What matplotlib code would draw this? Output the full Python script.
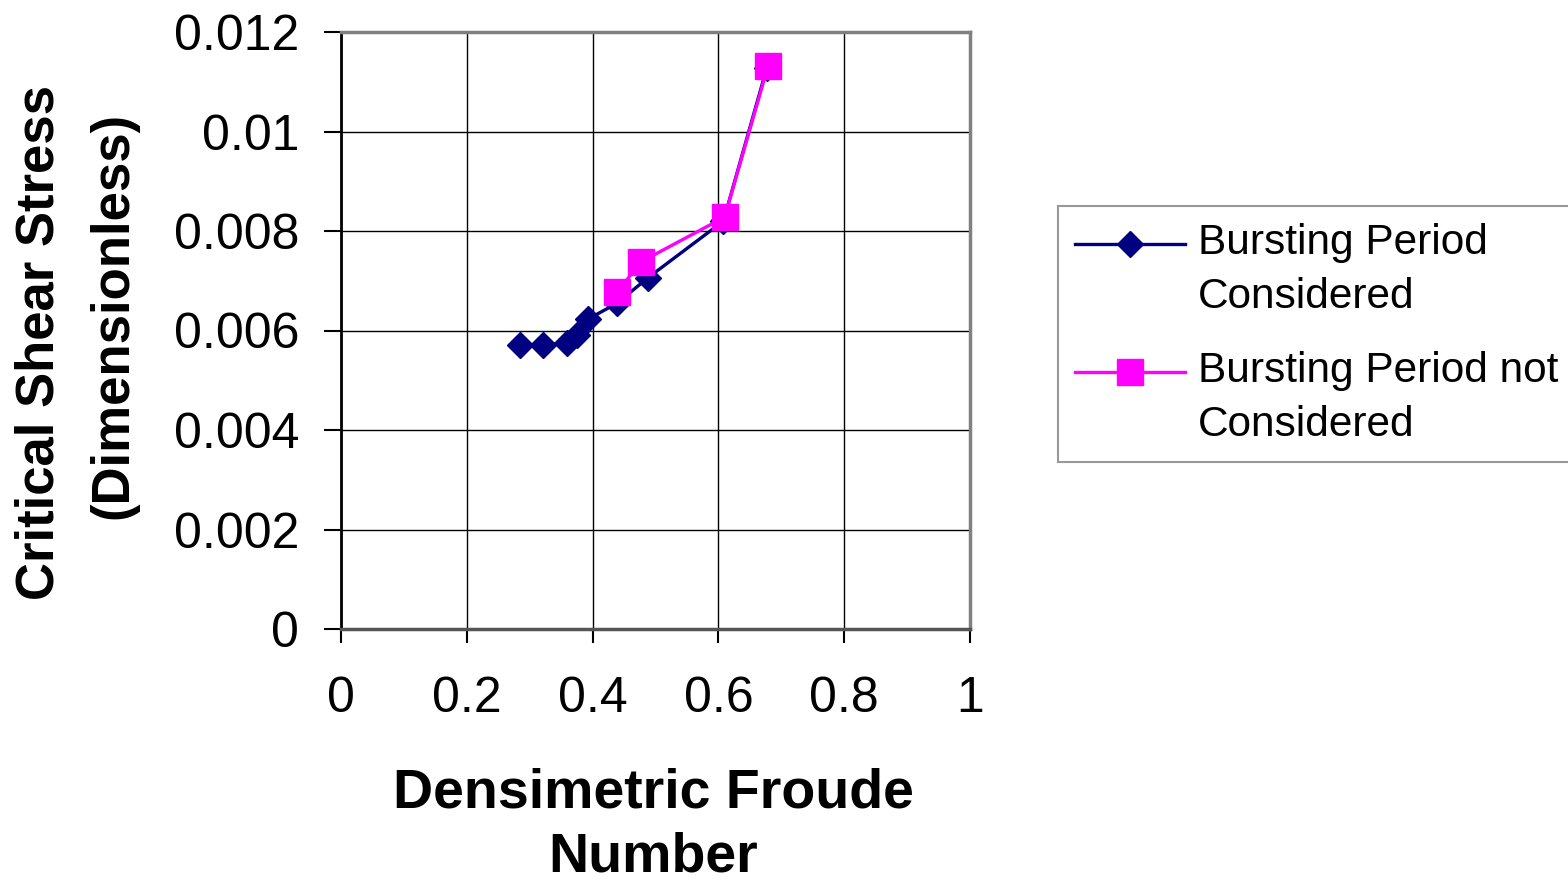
import matplotlib.pyplot as plt
from matplotlib.legend_handler import HandlerLine2D

plt.rcParams['font.family'] = ['Liberation Sans', 'DejaVu Sans']

# Bursting period considered
froude_burst = [0.285, 0.321, 0.359, 0.375, 0.393, 0.439, 0.488, 0.608, 0.677]
shear_burst = [0.00571, 0.00571, 0.00574, 0.00590, 0.00623, 0.00655, 0.00706, 0.00820, 0.01128]

# Bursting period not considered
froude_noburst = [0.439, 0.477, 0.610, 0.679]
shear_noburst = [0.00677, 0.00738, 0.00828, 0.01132]

x_ticks = [0, 0.2, 0.4, 0.6, 0.8, 1]
x_labels = ["0", "0.2", "0.4", "0.6", "0.8", "1"]
y_ticks = [0, 0.002, 0.004, 0.006, 0.008, 0.01, 0.012]
y_labels = ["0", "0.002", "0.004", "0.006", "0.008", "0.01", "0.012"]


class FirstLineHandler(HandlerLine2D):
    # puts the legend key level with the first line of a two-line label
    def __init__(self, shift, **kw):
        super().__init__(**kw)
        self.shift = shift

    def create_artists(self, legend, orig_handle, xdescent, ydescent,
                       width, height, fontsize, trans):
        return super().create_artists(legend, orig_handle, xdescent,
                                      ydescent - 2 * self.shift, width,
                                      height, fontsize, trans)


fig = plt.figure(figsize=(15.68, 8.83), dpi=100)
ax = fig.add_axes([341 / 1568, 1 - 629 / 883, 629 / 1568, 597 / 883])

l1, = ax.plot(froude_burst, shear_burst, color="#000080", lw=2.4, marker="D",
              ms=13.5, mec="#000080", label="Bursting Period\nConsidered", zorder=3)
l2, = ax.plot(froude_noburst, shear_noburst, color="#FF00FF", lw=2.4, marker="s",
              ms=19, mec="#FF00FF", label="Bursting Period not\nConsidered", zorder=4)

ax.set_xlim(0, 1)
ax.set_ylim(0, 0.012)
ax.set_xticks(x_ticks)
ax.set_xticklabels(x_labels)
ax.set_yticks(y_ticks)
ax.set_yticklabels(y_labels)
ax.tick_params(axis="both", direction="out", labelsize=36, color="black", width=1.5)
ax.tick_params(axis="y", length=12, pad=18)
ax.tick_params(axis="x", length=10, pad=24)
ax.grid(True, color="black", lw=1)
ax.set_axisbelow(True)

for side in ["top", "right"]:
    ax.spines[side].set_color("#808080")
    ax.spines[side].set_linewidth(2.5)
ax.spines["left"].set_color("black")
ax.spines["left"].set_linewidth(2)
ax.spines["bottom"].set_color("#555555")
ax.spines["bottom"].set_linewidth(2.5)

fig.text(40 / 1568, 1 - 342 / 883, "Critical Shear Stress", rotation=90,
         ha="center", va="center", fontsize=38, fontweight="bold")
fig.text(113 / 1568, 1 - 315 / 883, "(Dimensionless)", rotation=90,
         ha="center", va="center", fontsize=38, fontweight="bold")
fig.text(653 / 1568, 1 - 793 / 883, "Densimetric Froude", ha="center",
         va="center", fontsize=40, fontweight="bold")
fig.text(653 / 1568, 1 - 857 / 883, "Number", ha="center",
         va="center", fontsize=40, fontweight="bold")

leg = ax.legend(loc="upper left", bbox_to_anchor=(1058 / 1568, 1 - 206 / 883),
                bbox_transform=fig.transFigure, borderaxespad=0, fontsize=30.5,
                frameon=True, fancybox=False, handlelength=2.6, handletextpad=0.3,
                labelspacing=0.8, borderpad=0.4,
                handler_map={l1: FirstLineHandler(19), l2: FirstLineHandler(19)})
for t in leg.get_texts():
    t.set_linespacing(1.45)
leg.get_frame().set_edgecolor("#808080")
leg.get_frame().set_linewidth(1.5)

fig.savefig("out.png", dpi=100)
